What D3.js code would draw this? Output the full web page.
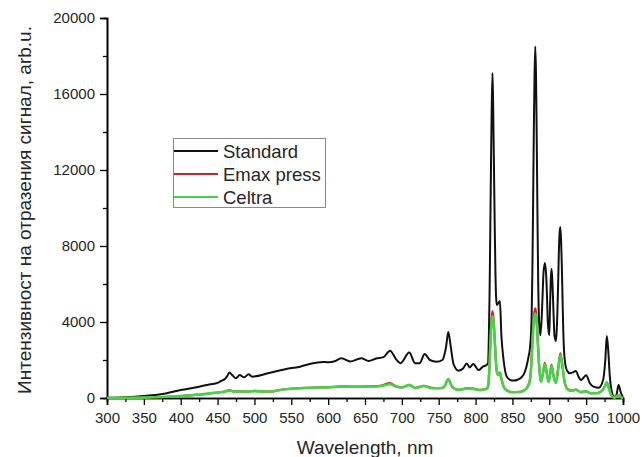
<!DOCTYPE html>
<html><head><meta charset="utf-8">
<script src="https://cdn.jsdelivr.net/npm/d3@7/dist/d3.min.js"></script>
<style>body{margin:0;background:#fff}svg{display:block}</style>
</head><body>
<svg id="c" width="642" height="457"></svg>
<script>
// ---- data ----
const seriesNames = ["Standard", "Emax press", "Celtra"];
const xTicks = [300,350,400,450,500,550,600,650,700,750,800,850,900,950,1000];
const yTicks = [0,4000,8000,12000,16000,20000];

const standardWl = [300,325,350,375,400,425,440,450,455,460,463,466,470,475,480,486,492,497,520,548,562,575,593,600,610,618,630,645,655,665,675,684,692,698,710,718,724,731,738,747,755,760,763,766,770,777,783,788,792,797,804,810,815,817,818,819,820,821,822,823,824,825,826,827,828,829,831,833,835,838,842,847,852,857,862,866,869,872,874,876,877,878,879,880,881,882,883,884,885,886,888,890,891,892,894,896,897,898,900,901,902,903,904,905,906,907,909,910,911,912,913,914,915,916,917,918,919,921,924,928,932,936,940,943,946,950,955,960,967,973,976,978,980,982,985,988,991,994,997,1000];
const standardVal = [10,40,105,210,421,595,720,800,900,1000,1150,1340,1200,1035,1210,1088,1246,1123,1320,1563,1650,1790,1900,1880,1950,2090,1920,2090,1950,2080,2150,2490,2050,1830,2390,1830,1830,2320,2000,1910,2000,2700,3470,2800,1800,1440,1550,1820,1610,1790,1470,1650,1740,1850,3200,5500,9000,12500,15500,17100,15000,12000,9000,6500,5200,4900,5000,5100,3300,2000,1150,950,920,960,1080,1300,1650,2200,2700,4200,6500,10000,14000,17000,18500,17000,13500,9500,6000,4200,3300,4500,5500,6500,7100,6300,5200,4000,3300,4800,6200,6800,6300,5300,4200,3300,3000,3500,4500,6000,7700,8700,9000,8300,7000,5200,3500,2000,1450,1300,1350,1420,1100,950,1050,1200,780,600,540,950,2000,3260,2500,1200,300,60,150,680,300,0];

const celtraWl = [300,350,375,400,425,450,460,466,472,480,490,500,510,520,540,562,580,600,620,640,650,670,684,692,700,710,718,730,740,750,757,763,768,777,788,797,805,812,815,817,818,819,820,821,822,823,824,825,826,827,828,829,831,833,835,838,842,850,860,868,872,874,876,877,878,879,880,881,882,883,884,885,886,887,889,891,894,897,899,901,903,906,909,912,915,918,921,925,930,936,943,950,955,965,972,976,978,981,984,988,994,998,1000];
const celtraVal = [0,20,50,105,180,290,330,390,330,340,330,360,340,330,450,510,540,560,600,590,600,620,720,600,550,680,520,630,520,510,560,980,600,420,500,480,420,450,480,600,1000,1800,2800,3600,4100,4300,4100,3700,3000,2300,1700,1350,1200,1330,1000,600,400,300,320,450,700,1000,2000,2800,3500,4000,4300,4450,4300,3900,3200,2500,1800,1300,860,1200,1780,1200,850,1200,1700,1100,790,1500,2250,1600,800,450,380,430,300,350,250,250,400,650,800,500,150,20,150,20,0];
const emaxVal = [0,20,50,105,180,290,340,420,350,350,340,370,350,340,460,520,550,570,610,600,610,640,780,620,560,690,530,640,530,520,570,1000,610,430,510,490,430,460,490,610,1020,1850,2880,3720,4300,4560,4300,3800,3060,2350,1730,1370,1230,1350,1020,610,410,310,330,460,720,1020,2050,2880,3620,4200,4550,4720,4500,4050,3280,2560,1830,1320,870,1230,1850,1230,860,1230,1760,1120,800,1540,2350,1640,810,460,390,440,310,360,260,260,410,660,820,510,150,20,150,20,0];

// ---- chart ----
const svg = d3.select("#c");
const m = {l:107, r:642-623, t:18, b:457-398};
const W = 642, H = 457;
const x = d3.scaleLinear().domain([300,1000]).range([m.l, W - m.r]);
const y = d3.scaleLinear().domain([0,20000]).range([H - m.b, m.t]);
const font = "'Liberation Sans', Arial, sans-serif";
const textCol = "#262626";

// minor ticks
const xMinor = d3.range(325, 1000, 50);
const yMinor = d3.range(2000, 20000, 4000);

const gx = svg.append("g").attr("transform", `translate(0,${y(0)})`);
gx.call(d3.axisBottom(x).tickValues(xTicks).tickSize(7).tickPadding(4).tickFormat(d3.format("d")));
gx.append("g").call(d3.axisBottom(x).tickValues(xMinor).tickSize(4).tickFormat(""));

const gy = svg.append("g").attr("transform", `translate(${x(300)},0)`);
gy.call(d3.axisLeft(y).tickValues(yTicks).tickSize(7).tickPadding(5).tickFormat(d3.format("d")));
gy.append("g").call(d3.axisLeft(y).tickValues(yMinor).tickSize(4).tickFormat(""));

svg.selectAll(".domain").attr("stroke","#000").attr("stroke-width",1.6);
svg.selectAll(".tick line").attr("stroke","#000").attr("stroke-width",1.3);
svg.selectAll(".tick text").attr("font-family",font).attr("font-size",15).attr("fill",textCol);
gx.selectAll(".tick text").attr("dy","0.95em");

// lines
const line = d3.line().curve(d3.curveMonotoneX);
function draw(wl, vals, color, width){
  const pts = wl.map((w,i)=>[x(w), y(vals[i])]);
  svg.append("path").attr("d", line(pts)).attr("fill","none")
    .attr("stroke", color).attr("stroke-width", width).attr("stroke-linejoin","round");
}
draw(standardWl, standardVal, "#111", 2);
draw(celtraWl, emaxVal, "#d42020", 2.2);
draw(celtraWl, celtraVal, "#44d444", 2.6);

// axis titles
svg.append("text").attr("x", (x(300)+x(1000))/2).attr("y", 454)
  .attr("text-anchor","middle").attr("font-family",font).attr("font-size",19).attr("fill",textCol)
  .text("Wavelength, nm");
svg.append("text").attr("transform", `translate(31,${(y(0)+y(20000))/2 + 2}) rotate(-90)`)
  .attr("text-anchor","middle").attr("font-family",font).attr("font-size",19).attr("fill",textCol)
  .text("Интензивност на отразения сигнал, arb.u.");

// legend
const lg = svg.append("g");
lg.append("rect").attr("x",173.5).attr("y",138.5).attr("width",152).attr("height",69)
  .attr("fill","#fff").attr("stroke","#8a8a8a").attr("stroke-width",1);
const legColors = ["#111", "#d42020", "#44d444"];
seriesNames.forEach((n,i)=>{
  const yy = 151 + i*23;
  lg.append("line").attr("x1",174).attr("x2",218).attr("y1",yy).attr("y2",yy)
    .attr("stroke",legColors[i]).attr("stroke-width",2.2);
  lg.append("text").attr("x",223).attr("y",yy+6.5).attr("font-family",font)
    .attr("font-size",18.5).attr("fill",textCol).text(n);
});
</script>
</body></html>
